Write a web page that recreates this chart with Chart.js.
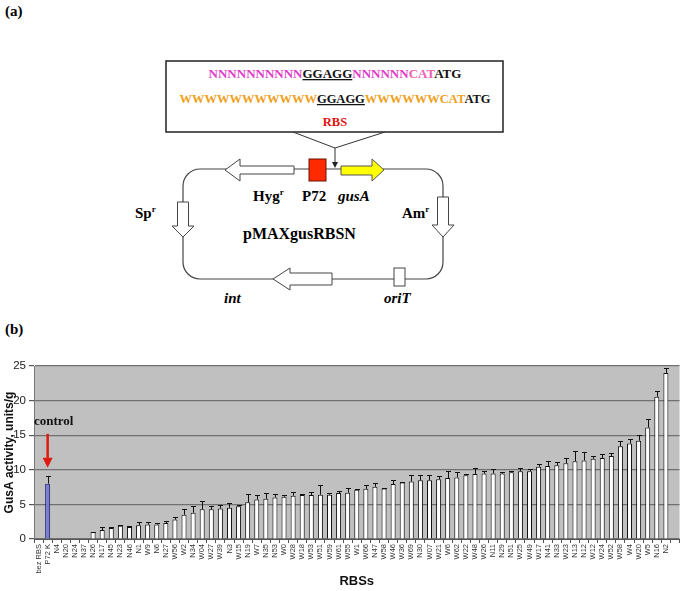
<!DOCTYPE html>
<html>
<head>
<meta charset="utf-8">
<script src="https://cdn.jsdelivr.net/npm/chart.js@4"></script>
<style>
  html, body { margin: 0; padding: 0; background: #fff; }
  #page { position: relative; width: 685px; height: 591px; overflow: hidden; }
  #diagram { position: absolute; left: 0; top: 0; }
  #chartBox { position: absolute; left: 0; top: 340px; width: 685px; height: 251px; }
  .ser { font-family: "Liberation Serif", "Times New Roman", serif; font-weight: bold; }
</style>
</head>
<body>
<div id="page">
  <!-- panel (a): plasmid diagram -->
  <svg id="diagram" width="685" height="340" xmlns="http://www.w3.org/2000/svg">
    <text class="ser" x="5" y="16" font-size="15">(a)</text>

    <rect x="166" y="61" width="337" height="71" fill="#fff" stroke="#222" stroke-width="1.5"/>
    <text class="ser" x="335" y="78" font-size="13" text-anchor="middle"><tspan fill="#e03cc8">NNNNNNNNNN</tspan><tspan fill="#111" text-decoration="underline">GGAGG</tspan><tspan fill="#e03cc8">NNNNNN</tspan><tspan fill="#f060b0">CAT</tspan><tspan fill="#111">ATG</tspan></text>
    <text class="ser" x="335" y="103" font-size="12.5" text-anchor="middle"><tspan fill="#f0a020">WWWWWWWWWWW</tspan><tspan fill="#111" text-decoration="underline">GGAGG</tspan><tspan fill="#f0a020">WWWWWWCAT</tspan><tspan fill="#111">ATG</tspan></text>
    <text class="ser" x="335" y="126" font-size="12.5" fill="#e01010" text-anchor="middle">RBS</text>
    <polyline points="293,132 335,148 385,132" fill="none" stroke="#333" stroke-width="1"/>
    <line x1="335" y1="148" x2="335" y2="163" stroke="#333" stroke-width="1"/>
    <polygon points="332,162 338,162 335,168" fill="#222"/>

    <rect x="183" y="169" width="260" height="110" rx="17" ry="17" fill="none" stroke="#444" stroke-width="1.2"/>
    <!-- Hyg -->
    <polygon points="225,170 240,159 240,166 294,166 294,174 240,174 240,181" fill="#fff" stroke="#444" stroke-width="1"/>
    <!-- P72 -->
    <rect x="309" y="159" width="17" height="22" fill="#ff2a00" stroke="#6a1000" stroke-width="1"/>
    <!-- gusA -->
    <polygon points="341,166 372,166 372,159 384,170 372,181 372,175 341,175" fill="#ffff00" stroke="#555" stroke-width="1"/>
    <!-- Sp -->
    <polygon points="177.5,202 188.5,202 188.5,226 194,226 183,237 172,226 177.5,226" fill="#fff" stroke="#444" stroke-width="1"/>
    <!-- Am -->
    <polygon points="437.5,197 448.5,197 448.5,225 454,225 443,237 432,225 437.5,225" fill="#fff" stroke="#444" stroke-width="1"/>
    <!-- int -->
    <polygon points="273,279 290,268 290,273 332,273 332,285 290,285 290,290" fill="#fff" stroke="#444" stroke-width="1"/>
    <!-- oriT -->
    <rect x="394" y="268" width="11" height="18" fill="#fff" stroke="#444" stroke-width="1"/>

    <text class="ser" x="253" y="201" font-size="15">Hyg<tspan font-size="9" dy="-6">r</tspan></text>
    <text class="ser" x="302" y="201" font-size="15">P72</text>
    <text class="ser" x="338" y="201" font-size="15" font-style="italic">gusA</text>
    <text class="ser" x="402" y="218" font-size="15">Am<tspan font-size="9" dy="-6">r</tspan></text>
    <text class="ser" x="135" y="218" font-size="15">Sp<tspan font-size="9" dy="-6">r</tspan></text>
    <text class="ser" x="243" y="239" font-size="16">pMAXgusRBSN</text>
    <text class="ser" x="224" y="303" font-size="15" font-style="italic">int</text>
    <text class="ser" x="384" y="303" font-size="15" font-style="italic">oriT</text>

    <text class="ser" x="5" y="334" font-size="15">(b)</text>
  </svg>

  <!-- panel (b): chart -->
  <div id="chartBox"><canvas id="gusChart" width="685" height="251"></canvas></div>
</div>

<script>
// RBS variants, sorted by activity (last slot is an empty category)
const rbsLabels = [
  'bez RBS', 'P72 K', 'N4', 'N20', 'N24', 'N37', 'N26', 'N17', 'N45', 'N23',
  'N46', 'N1', 'W9', 'N6', 'N27', 'W56', 'W2', 'N34', 'W04', 'W27',
  'W39', 'N3', 'W15', 'N19', 'W7', 'N35', 'N53', 'W0', 'W28', 'W18',
  'W53', 'W51', 'W59', 'W61', 'W55', 'W1', 'W66', 'N47', 'W58', 'W46',
  'W36', 'W69', 'N30', 'W07', 'W21', 'W6', 'W62', 'W22', 'W48', 'W26',
  'N11', 'N29', 'N51', 'W25', 'W49', 'W17', 'N41', 'N33', 'W23', 'N13',
  'N12', 'W12', 'W24', 'W52', 'W58', 'W4', 'W20', 'W5', 'N16', 'N2', ''
];

// GusA activity, units/g
const gusActivity = [
  0, 8.0, 0, 0, 0, 0, 1.0, 1.3, 1.6, 1.9,
  1.75, 2.0, 2.1, 2.1, 2.3, 2.8, 3.5, 3.8, 4.3, 4.3,
  4.4, 4.5, 4.75, 5.3, 5.7, 5.8, 6.0, 6.1, 6.25, 6.35,
  6.35, 6.4, 6.4, 6.65, 6.7, 7.1, 7.25, 7.55, 7.3, 7.95,
  8.15, 8.3, 8.5, 8.5, 8.65, 8.8, 8.9, 9.2, 9.4, 9.45,
  9.45, 9.45, 9.65, 9.8, 9.8, 10.45, 10.55, 10.65, 10.95, 11.25,
  11.35, 11.6, 11.7, 12.0, 13.4, 13.8, 14.2, 16.1, 20.55, 24.0, null
];

// upper error (+SD)
const gusError = [
  0, 1.05, 0, 0, 0, 0, 0.05, 0.45, 0.15, 0.15,
  0.1, 0.4, 0.35, 0.25, 0.3, 0.35, 0.9, 0.95, 1.2, 0.45,
  0.5, 0.7, 0.2, 1.15, 0.6, 0.8, 0.5, 0.3, 0.5, 0.1,
  0.5, 1.4, 0.3, 0.35, 0.7, 0.1, 0.5, 0.5, 0.1, 0.6,
  0.1, 0.9, 0.8, 0.8, 0.45, 1.05, 0.75, 0.25, 0.8, 0.4,
  0.6, 0.25, 0.2, 0.45, 0.25, 0.4, 0.7, 0.5, 0.7, 1.5,
  1.25, 0.35, 0.55, 0.4, 0.8, 0.6, 0.9, 1.25, 0.85, 0.7, null
];

const yTicks = [0, 5, 10, 15, 20, 25];
const CONTROL_LABEL = 'P72 K';
const arrowFrom = 15.2, arrowTo = 10.3;   // red arrow, in units/g

const controlIdx = rbsLabels.indexOf(CONTROL_LABEL);
const barFill = rbsLabels.map((_, i) => i === controlIdx ? '#7b7bd6' : '#ffffff');
const barEdge = rbsLabels.map((_, i) => i === controlIdx ? '#202060' : '#111111');

// grey plot background
const plotBg = {
  id: 'plotBg',
  beforeDraw(chart) {
    const { ctx, chartArea: a } = chart;
    ctx.save();
    ctx.fillStyle = '#c0c0c0';
    ctx.fillRect(a.left, a.top, a.right - a.left, a.bottom - a.top);
    ctx.restore();
  }
};

// one-sided error bars
const errBars = {
  id: 'errBars',
  afterDatasetsDraw(chart) {
    const { ctx } = chart;
    const y = chart.scales.y;
    const meta = chart.getDatasetMeta(0);
    ctx.save();
    ctx.strokeStyle = '#111';
    ctx.lineWidth = 1;
    meta.data.forEach((bar, i) => {
      const v = gusActivity[i], e = gusError[i];
      if (v == null || !e) return;
      const yTop = Math.round(y.getPixelForValue(v + e)) + 0.5;
      const x = Math.round(bar.x) + 0.5;
      ctx.beginPath();
      ctx.moveTo(x, bar.y);
      ctx.lineTo(x, yTop);
      ctx.moveTo(x - 2.5, yTop);
      ctx.lineTo(x + 2.5, yTop);
      ctx.stroke();
    });
    ctx.restore();
  }
};

// "control" label and red arrow on the P72 K bar
const controlMark = {
  id: 'controlMark',
  afterDraw(chart) {
    const { ctx } = chart;
    const x = chart.scales.x.getPixelForValue(controlIdx);
    const y0 = chart.scales.y.getPixelForValue(arrowFrom);
    const y1 = chart.scales.y.getPixelForValue(arrowTo);
    ctx.save();
    ctx.fillStyle = '#111';
    ctx.font = 'bold 13px "Liberation Serif", "Times New Roman", serif';
    ctx.textAlign = 'center';
    ctx.textBaseline = 'middle';
    ctx.fillText('control', x + 6, y0 - 12);
    ctx.strokeStyle = '#e01a10';
    ctx.fillStyle = '#e01a10';
    ctx.lineWidth = 2.5;
    ctx.beginPath();
    ctx.moveTo(x, y0);
    ctx.lineTo(x, y1 - 9);
    ctx.stroke();
    ctx.beginPath();
    ctx.moveTo(x - 5, y1 - 10);
    ctx.lineTo(x + 5, y1 - 10);
    ctx.lineTo(x, y1);
    ctx.closePath();
    ctx.fill();
    ctx.restore();
  }
};

new Chart(document.getElementById('gusChart'), {
  type: 'bar',
  data: {
    labels: rbsLabels,
    datasets: [{
      data: gusActivity,
      backgroundColor: barFill,
      borderColor: barEdge,
      borderWidth: 1,
      borderSkipped: 'bottom',
      barPercentage: 0.55,
      categoryPercentage: 1.0
    }]
  },
  options: {
    responsive: false,
    animation: false,
    devicePixelRatio: 1,
    layout: { padding: { top: 26, right: 3, left: 2, bottom: 0 } },
    plugins: { legend: { display: false }, tooltip: { enabled: false } },
    scales: {
      x: {
        grid: { display: true, drawOnChartArea: false, drawTicks: true, tickLength: 4, offset: true, color: '#555' },
        border: { display: true, color: '#555', width: 1 },
        ticks: {
          autoSkip: false, minRotation: 90, maxRotation: 90, padding: 1,
          color: '#333', font: { family: 'Arial, "Liberation Sans", sans-serif', size: 7.5 }
        },
        title: {
          display: true, text: 'RBSs', color: '#111', padding: { top: 0, bottom: 2 },
          font: { family: 'Arial, "Liberation Sans", sans-serif', size: 13, weight: 'bold' }
        },
        afterFit(scale) { scale.height = 52; }
      },
      y: {
        min: 0, max: 25,
        afterBuildTicks(scale) { scale.ticks = yTicks.map(v => ({ value: v })); },
        grid: { color: '#707070', lineWidth: 1.2, tickLength: 5, tickColor: '#555' },
        border: { display: true, color: '#777', width: 1 },
        ticks: {
          padding: 3, color: '#222',
          font: { family: 'Arial, "Liberation Sans", sans-serif', size: 11.5 }
        },
        title: {
          display: true, text: 'GusA activity, units/g', color: '#111', padding: 0,
          font: { family: 'Arial, "Liberation Sans", sans-serif', size: 12, weight: 'bold' }
        },
        afterFit(scale) { scale.width = 32; }
      }
    }
  },
  plugins: [plotBg, errBars, controlMark]
});
</script>
</body>
</html>
